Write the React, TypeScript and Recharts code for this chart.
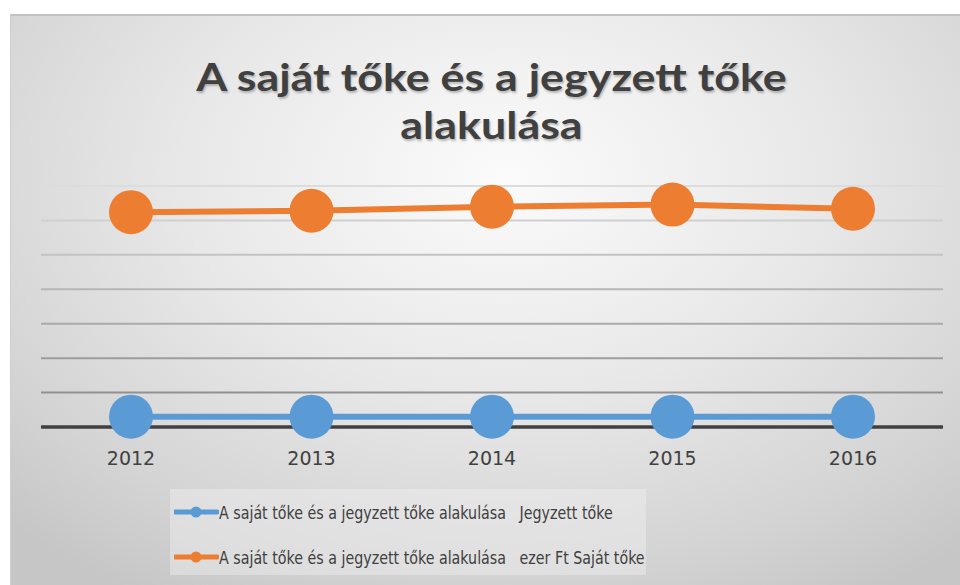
import React from "react";
import { LineChart, Line, XAxis, YAxis, CartesianGrid } from "recharts";

const years = ["2012", "2013", "2014", "2015", "2016"];
const jegyzettToke = [15000, 15000, 15000, 15000, 15000];
const sajatToke = [312000, 314000, 320000, 323000, 317000];
const yTicks = [0, 50000, 100000, 150000, 200000, 250000, 300000, 350000];

const seriesNames = [
  "A saját tőke és a jegyzett tőke alakulása   Jegyzett tőke",
  "A saját tőke és a jegyzett tőke alakulása   ezer Ft Saját tőke",
];
const title = ["A saját tőke és a jegyzett tőke", "alakulása"];

const BLUE = "#5b9bd5";
const ORANGE = "#ed7d31";
const TOP = 186;
const BOTTOM = 427;

const data = years.map((y, i) => ({
  year: y,
  jegyzett: jegyzettToke[i],
  sajat: sajatToke[i],
}));

// gridlines get darker towards the bottom
const gridLine = (props: any) => {
  const t = Math.max(0, Math.min(1, (props.y1 - TOP) / (BOTTOM - TOP)));
  const c = Math.round(220 - t * 88);
  if (props.y1 > BOTTOM - 3) return <g key={props.key} />;
  return (
    <line
      key={props.key}
      x1={props.x1}
      x2={props.x2}
      y1={props.y1}
      y2={props.y2}
      stroke={`rgb(${c},${c},${c})`}
      strokeWidth={2}
    />
  );
};

const legendFont = '"Liberation Sans Narrow", "DejaVu Sans Condensed", "Liberation Sans", sans-serif';

export default function App() {
  return (
    <div
      style={{
        position: "fixed",
        left: 0,
        top: 0,
        width: 960,
        height: 585,
        background: "#ffffff",
        overflow: "hidden",
      }}
    >
      <div
        style={{
          position: "absolute",
          left: 10,
          top: 14,
          width: 950,
          height: 571,
          borderTop: "2px solid #c2c2c2",
          borderLeft: "1px solid #cfcfcf",
          background:
            "radial-gradient(ellipse 75% 85% at 52% 28%, #fbfbfb 0%, #e8e8e8 45%, #d4d4d4 80%, #c6c6c6 100%)",
        }}
      />
      <div
        style={{
          position: "absolute",
          left: 0,
          top: 52,
          width: 983,
          textAlign: "center",
          fontFamily: "Lato, sans-serif",
          fontWeight: 700,
          fontSize: 38,
          lineHeight: "48px",
          color: "#404040",
          textShadow: "1px 2px 2px rgba(0,0,0,0.25)",
          transform: "scaleX(1.18)",
          transformOrigin: "491.5px 0",
        }}
      >
        <div>{title[0]}</div>
        <div>{title[1]}</div>
      </div>
      <div style={{ position: "absolute", left: 0, top: 0 }}>
        <LineChart
          width={960}
          height={585}
          data={data}
          margin={{ top: TOP, right: 17, left: 41, bottom: 585 - BOTTOM - 30 }}
        >
          <CartesianGrid vertical={false} horizontal={gridLine} />
          <YAxis hide domain={[0, 350000]} ticks={yTicks} />
          <XAxis
            dataKey="year"
            height={30}
            padding={{ left: 90, right: 90 }}
            tickLine={false}
            tickMargin={19}
            axisLine={{ stroke: "#404040", strokeWidth: 3.5 }}
            tick={{ fill: "#404040", fontSize: 19, fontFamily: "DejaVu Sans, sans-serif" }}
          />
          <Line
            dataKey="jegyzett"
            name={seriesNames[0]}
            stroke={BLUE}
            strokeWidth={6}
            dot={{ r: 22, fill: BLUE, stroke: "none" }}
            activeDot={false}
            isAnimationActive={false}
          />
          <Line
            dataKey="sajat"
            name={seriesNames[1]}
            stroke={ORANGE}
            strokeWidth={6}
            dot={{ r: 22, fill: ORANGE, stroke: "none" }}
            activeDot={false}
            isAnimationActive={false}
          />
        </LineChart>
      </div>
      <div
        style={{
          position: "absolute",
          left: 170,
          top: 489,
          width: 476,
          height: 86,
          background: "rgba(240,240,240,0.45)",
        }}
      >
        {seriesNames.map((name, i) => (
          <div
            key={name}
            style={{
              position: "absolute",
              left: 4,
              top: i === 0 ? 10 : 55,
              height: 26,
              display: "flex",
              alignItems: "center",
            }}
          >
            <svg width={45} height={14} style={{ flex: "none" }}>
              <line x1={1} x2={43} y1={7} y2={7} stroke={i === 0 ? BLUE : ORANGE} strokeWidth={5} strokeLinecap="round" />
              <circle cx={22} cy={7} r={5.5} fill={i === 0 ? BLUE : ORANGE} />
            </svg>
            <span
              style={{
                display: "inline-block",
                whiteSpace: "pre",
                fontFamily: legendFont,
                fontSize: 18,
                color: "#404040",
                transform: "scaleX(0.88)",
                transformOrigin: "0 50%",
              }}
            >
              {name}
            </span>
          </div>
        ))}
      </div>
    </div>
  );
}
